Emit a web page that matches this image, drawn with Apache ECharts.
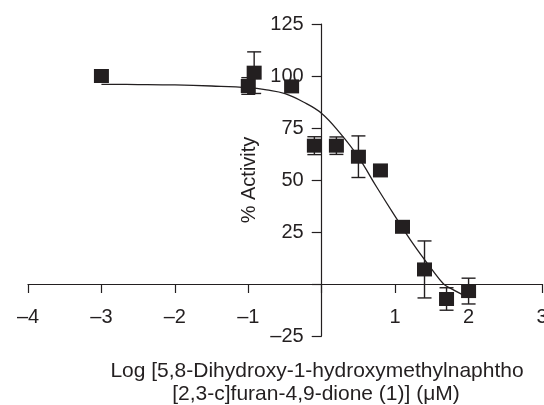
<!DOCTYPE html>
<html>
<head>
<meta charset="utf-8">
<script src="https://cdn.jsdelivr.net/npm/echarts@6/dist/echarts.min.js"></script>
<style>
html,body{margin:0;padding:0;background:#fff;}
#chart{width:544px;height:405px;}
</style>
</head>
<body>
<div id="chart"></div>
<script>
// Data points (log concentration, % activity, error)
var pointX = [-3, -1, -0.92, -0.41, -0.1, 0.2, 0.5, 0.8, 1.1, 1.4, 1.7, 2.0];
var pointY = [100, 95.2, 101.6, 95, 66.5, 66.5, 61.2, 54.6, 27.5, 7, -7.2, -3.4];
var pointErr = [0, 4, 10, 0, 4.3, 4.2, 10, 0, 0, 13.7, 5.4, 6.2];

// Fitted curve
var curveX = [-3, -2.5, -2, -1.5, -1, -0.75, -0.5, -0.25, 0, 0.25, 0.5, 0.75, 1, 1.25, 1.5, 1.66, 1.75, 1.91];
var curveY = [96, 95.9, 95.7, 95.2, 94.4, 93.3, 91.5, 87.5, 82, 72.5, 61, 46.5, 32.5, 19, 7, 0, -2, -5];

var xTicks = { min: -4, max: 3, interval: 1 };
var yTicks = { min: -25, max: 125, interval: 25 };

var xTitle = ['Log [5,8-Dihydroxy-1-hydroxymethylnaphtho', '[2,3-c]furan-4,9-dione (1)] (\u03bcM)'];
var yTitle = '% Activity';

var ink = '#231f20';
var font = '"Liberation Sans", Arial, sans-serif';

function fmt(v) {
  if (v === 0) return '';
  return String(v).replace('-', '\u2013');
}

var gridBox = { left: 28, right: 2, top: 24, bottom: 69, width: 544, height: 405 };
var plotW = gridBox.width - gridBox.left - gridBox.right;
var plotH = gridBox.height - gridBox.top - gridBox.bottom;
// shift the axes so they cross at the origin (x = 0, y = 0)
var yAxisOffset = -plotW * (0 - xTicks.min) / (xTicks.max - xTicks.min);
var xAxisOffset = -plotH * (0 - yTicks.min) / (yTicks.max - yTicks.min);

var scatterData = pointX.map(function (x, i) { return [x, pointY[i]]; });
var errData = pointX.map(function (x, i) { return [x, pointY[i], pointErr[i]]; });
var curveData = curveX.map(function (x, i) { return [x, curveY[i]]; });

var chart = echarts.init(document.getElementById('chart'), null, { renderer: 'canvas' });
chart.setOption({
  animation: false,
  backgroundColor: '#fff',
  grid: { left: gridBox.left, right: gridBox.right, top: gridBox.top, bottom: gridBox.bottom, containLabel: false, outerBoundsMode: 'none' },
  xAxis: {
    type: 'value', min: xTicks.min, max: xTicks.max, interval: xTicks.interval,
    position: 'bottom', offset: xAxisOffset,
    splitLine: { show: false },
    axisLine: { onZero: false, lineStyle: { color: ink, width: 1.2 } },
    axisTick: { show: true, length: 9, lineStyle: { color: ink, width: 1.2 } },
    axisLabel: { margin: 23, formatter: fmt, color: ink, fontSize: 20, fontFamily: font, showMinLabel: true, showMaxLabel: true }
  },
  yAxis: {
    type: 'value', min: yTicks.min, max: yTicks.max, interval: yTicks.interval,
    position: 'left', offset: yAxisOffset,
    splitLine: { show: false },
    axisLine: { show: true, onZero: false, lineStyle: { color: ink, width: 1.2 } },
    axisTick: { show: true, length: 10, lineStyle: { color: ink, width: 1.2 } },
    axisLabel: { margin: 18, formatter: fmt, color: ink, fontSize: 20, fontFamily: font, showMinLabel: true, showMaxLabel: true },
    name: yTitle, nameLocation: 'middle', nameRotate: 90, nameGap: 62,
    nameTextStyle: { color: ink, fontSize: 20, fontFamily: font }
  },
  graphic: [
    { type: 'text', x: 317, y: 371, style: { text: xTitle[0], align: 'center', verticalAlign: 'middle', font: '21px ' + font, fill: ink } },
    { type: 'text', x: 316, y: 394, style: { text: xTitle[1], align: 'center', verticalAlign: 'middle', font: '21px ' + font, fill: ink } }
  ],
  series: [
    {
      type: 'line', data: curveData, smooth: 0.4, showSymbol: false, symbol: 'none',
      lineStyle: { color: ink, width: 1.3 }, z: 2
    },
    {
      type: 'custom', data: errData, z: 3,
      renderItem: function (params, api) {
        var x = api.value(0), y = api.value(1), e = api.value(2);
        if (!e) return { type: 'group', children: [] };
        var top = api.coord([x, y + e]);
        var bot = api.coord([x, y - e]);
        var hw = 7;
        var st = { stroke: ink, lineWidth: 1.4 };
        return {
          type: 'group',
          children: [
            { type: 'line', shape: { x1: top[0], y1: top[1], x2: bot[0], y2: bot[1] }, style: st },
            { type: 'line', shape: { x1: top[0] - hw, y1: top[1], x2: top[0] + hw, y2: top[1] }, style: st },
            { type: 'line', shape: { x1: bot[0] - hw, y1: bot[1], x2: bot[0] + hw, y2: bot[1] }, style: st }
          ]
        };
      }
    },
    {
      type: 'scatter', data: scatterData, symbol: 'rect', symbolSize: [15, 14],
      itemStyle: { color: ink, opacity: 1 }, z: 4
    }
  ]
});
</script>
</body>
</html>
